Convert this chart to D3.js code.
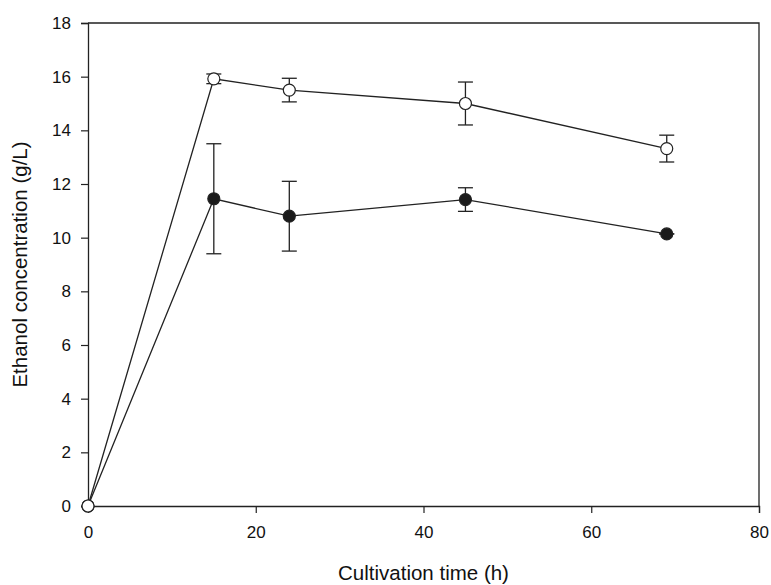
<!DOCTYPE html>
<html>
<head>
<meta charset="utf-8">
<script src="https://cdn.jsdelivr.net/npm/d3@7"></script>
<style>
  body { margin: 0; background: #fff; }
  svg { font-family: "Liberation Sans", Arial, sans-serif; }
</style>
</head>
<body>
<div id="vis"></div>
<script>
// chart data
const TIME = [0, 15, 24, 45, 69];
const OPEN_MEAN = [0, 15.92, 15.5, 15.0, 13.32];
const OPEN_ERR = [0, 0.18, 0.44, 0.8, 0.5];
const FILLED_MEAN = [0, 11.45, 10.8, 11.42, 10.14];
const FILLED_ERR = [0, 2.05, 1.3, 0.44, 0];
const X_TICKS = [0, 20, 40, 60, 80];
const Y_TICKS = [0, 2, 4, 6, 8, 10, 12, 14, 16, 18];

const FRAME_WIDTH = 771;
const FRAME_HEIGHT = 585;
const MARGINS = {left: 88, right: 12, top: 23, bottom: 79};
const VIS_WIDTH = FRAME_WIDTH - MARGINS.left - MARGINS.right;
const VIS_HEIGHT = FRAME_HEIGHT - MARGINS.top - MARGINS.bottom;
const INK = "#222";

const FRAME = d3.select("#vis")
  .append("svg")
  .attr("width", FRAME_WIDTH)
  .attr("height", FRAME_HEIGHT);

const X_SCALE = d3.scaleLinear().domain([0, 80]).range([0, VIS_WIDTH]);
const Y_SCALE = d3.scaleLinear().domain([0, 18]).range([VIS_HEIGHT, 0]);

const G = FRAME.append("g")
  .attr("transform", "translate(" + MARGINS.left + "," + MARGINS.top + ")");

// frame box (top and right)
G.append("path")
  .attr("d", "M0,0H" + VIS_WIDTH + "V" + VIS_HEIGHT)
  .attr("fill", "none")
  .attr("stroke", INK)
  .attr("stroke-width", 1.3);

// axes
const xAxis = G.append("g")
  .attr("transform", "translate(0," + VIS_HEIGHT + ")")
  .call(d3.axisBottom(X_SCALE).tickValues(X_TICKS).tickSize(7).tickPadding(13));
const yAxis = G.append("g")
  .call(d3.axisLeft(Y_SCALE).tickValues(Y_TICKS).tickSize(7).tickPadding(10));

[xAxis, yAxis].forEach((ax) => {
  ax.attr("font-size", 17).attr("font-family", "'Liberation Sans', Arial, sans-serif");
  ax.select(".domain").attr("stroke", INK).attr("stroke-width", 1.3);
  ax.selectAll(".tick line").attr("stroke", INK).attr("stroke-width", 1.2);
  ax.selectAll(".tick text").attr("fill", "#111");
});

// axis titles
FRAME.append("text")
  .attr("x", MARGINS.left + VIS_WIDTH / 2)
  .attr("y", 580)
  .attr("text-anchor", "middle")
  .attr("font-size", "20.5px")
  .attr("fill", "#111")
  .text("Cultivation time (h)");

FRAME.append("text")
  .attr("transform", "translate(27," + (MARGINS.top + VIS_HEIGHT / 2) + ") rotate(-90)")
  .attr("text-anchor", "middle")
  .attr("font-size", "20.5px")
  .attr("fill", "#111")
  .text("Ethanol concentration (g/L)");

// draw one series
function drawSeries(means, errs, fill) {
  const pts = TIME.map((t, i) => ({x: t, y: means[i], e: errs[i]}));
  const line = d3.line().x((d) => X_SCALE(d.x)).y((d) => Y_SCALE(d.y));

  G.append("path")
    .datum(pts)
    .attr("d", line)
    .attr("fill", "none")
    .attr("stroke", INK)
    .attr("stroke-width", 1.3);

  // error bars on every sampled point after t=0
  const eb = G.selectAll(null)
    .data(pts.filter((d) => d.x > 0))
    .enter()
    .append("g")
    .attr("stroke", INK)
    .attr("stroke-width", 1.3);
  eb.append("line")
    .attr("x1", (d) => X_SCALE(d.x)).attr("x2", (d) => X_SCALE(d.x))
    .attr("y1", (d) => Y_SCALE(d.y - d.e)).attr("y2", (d) => Y_SCALE(d.y + d.e));
  eb.append("line")
    .attr("x1", (d) => X_SCALE(d.x) - 7.5).attr("x2", (d) => X_SCALE(d.x) + 7.5)
    .attr("y1", (d) => Y_SCALE(d.y + d.e)).attr("y2", (d) => Y_SCALE(d.y + d.e));
  eb.append("line")
    .attr("x1", (d) => X_SCALE(d.x) - 7.5).attr("x2", (d) => X_SCALE(d.x) + 7.5)
    .attr("y1", (d) => Y_SCALE(d.y - d.e)).attr("y2", (d) => Y_SCALE(d.y - d.e));

  G.selectAll(null)
    .data(pts)
    .enter()
    .append("circle")
    .attr("cx", (d) => X_SCALE(d.x))
    .attr("cy", (d) => Y_SCALE(d.y))
    .attr("r", 6)
    .attr("fill", fill)
    .attr("stroke", INK)
    .attr("stroke-width", 1.2);
}

drawSeries(FILLED_MEAN, FILLED_ERR, "#1a1a1a");
drawSeries(OPEN_MEAN, OPEN_ERR, "#fff");
</script>
</body>
</html>
